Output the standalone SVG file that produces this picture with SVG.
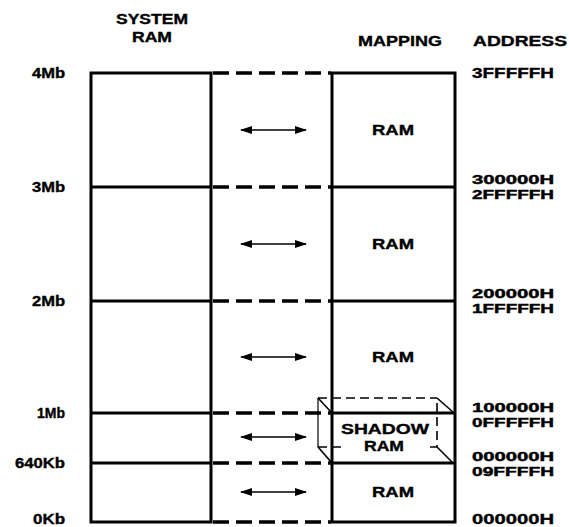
<svg xmlns="http://www.w3.org/2000/svg" width="570" height="527" viewBox="0 0 570 527">
<style>
text{font-family:"Liberation Sans",Arial,sans-serif;font-weight:bold;font-size:14px;fill:#000;stroke:#000;stroke-width:0.35}
.a{font-size:13px;stroke-width:0.45}
.box{fill:#fff;stroke:#000;stroke-width:3}
.div{stroke:#000;stroke-width:3}
.dash{stroke:#000;stroke-width:3.5;stroke-dasharray:16 7;fill:none}
.thin{stroke:#000;stroke-width:1.6;stroke-dasharray:9 5;fill:none}
.arr{stroke:#000;stroke-width:1.6;marker-start:url(#ah);marker-end:url(#ah)}
.m{text-anchor:middle}
.r{text-anchor:end}
</style>
<defs>
<marker id="ah" viewBox="0 0 12 8" refX="11" refY="4" markerWidth="12" markerHeight="8" markerUnits="userSpaceOnUse" orient="auto-start-reverse">
<path d="M0,0 L12,4 L0,8 Z" fill="#000"/>
</marker>
</defs>
<g id="headers">
<text x="152" y="24" class="m" textLength="72" lengthAdjust="spacingAndGlyphs">SYSTEM</text>
<text x="152" y="42" class="m" textLength="40" lengthAdjust="spacingAndGlyphs">RAM</text>
<text x="400" y="46" class="m" textLength="84" lengthAdjust="spacingAndGlyphs">MAPPING</text>
<text x="473" y="46" textLength="94" lengthAdjust="spacingAndGlyphs">ADDRESS</text>
</g>
<g id="connectors">
<line class="dash" x1="213" y1="73" x2="331" y2="73"/>
<line class="dash" x1="213" y1="187" x2="331" y2="187"/>
<line class="dash" x1="213" y1="301" x2="331" y2="301"/>
<line class="dash" x1="213" y1="413" x2="331" y2="413"/>
<line class="dash" x1="213" y1="463" x2="331" y2="463"/>
<line class="dash" x1="213" y1="522" x2="331" y2="522"/>
<line class="arr" x1="241" y1="130" x2="306" y2="130"/>
<line class="arr" x1="241" y1="244" x2="306" y2="244"/>
<line class="arr" x1="241" y1="357" x2="306" y2="357"/>
<line class="arr" x1="241" y1="437" x2="306" y2="437"/>
<line class="arr" x1="241" y1="492" x2="306" y2="492"/>
</g>
<g id="system-ram">
<rect class="box" x="91" y="73" width="120" height="449"/>
<line class="div" x1="91" y1="187" x2="211" y2="187"/>
<line class="div" x1="91" y1="301" x2="211" y2="301"/>
<line class="div" x1="91" y1="413" x2="211" y2="413"/>
<line class="div" x1="91" y1="463" x2="211" y2="463"/>
<text x="65" y="78" class="r" textLength="33" lengthAdjust="spacingAndGlyphs">4Mb</text>
<text x="65" y="192" class="r" textLength="33" lengthAdjust="spacingAndGlyphs">3Mb</text>
<text x="65" y="306" class="r" textLength="33" lengthAdjust="spacingAndGlyphs">2Mb</text>
<text x="65" y="418" class="r" textLength="28" lengthAdjust="spacingAndGlyphs">1Mb</text>
<text x="65" y="468" class="r" textLength="50" lengthAdjust="spacingAndGlyphs">640Kb</text>
<text x="65" y="524" class="r" textLength="32" lengthAdjust="spacingAndGlyphs">0Kb</text>
</g>
<g id="mapping">
<rect class="box" x="332" y="73" width="123" height="449"/>
<line class="div" x1="332" y1="187" x2="455" y2="187"/>
<line class="div" x1="332" y1="301" x2="455" y2="301"/>
<line class="div" x1="332" y1="413" x2="455" y2="413"/>
<line class="div" x1="332" y1="463" x2="455" y2="463"/>
<text x="393" y="135" class="m" textLength="42" lengthAdjust="spacingAndGlyphs">RAM</text>
<text x="393" y="249" class="m" textLength="42" lengthAdjust="spacingAndGlyphs">RAM</text>
<text x="393" y="362" class="m" textLength="42" lengthAdjust="spacingAndGlyphs">RAM</text>
<text x="393" y="497" class="m" textLength="42" lengthAdjust="spacingAndGlyphs">RAM</text>
</g>
<g id="shadow-ram">
<path class="thin" d="M318,447 H437 V398"/>
<rect x="342" y="420" width="86" height="32" fill="#fff"/>
<path class="thin" d="M318,398 H437"/>
<line x1="318" y1="398" x2="318" y2="447" stroke="#000" stroke-width="1.2"/>
<line x1="318" y1="398" x2="332" y2="413" stroke="#000" stroke-width="1.6"/>
<line x1="437" y1="398" x2="454" y2="413" stroke="#000" stroke-width="1.6"/>
<line x1="318" y1="447" x2="332" y2="463" stroke="#000" stroke-width="1.6"/>
<line x1="437" y1="447" x2="453" y2="463" stroke="#000" stroke-width="1.6"/>
<text x="385" y="434" class="m" textLength="88" lengthAdjust="spacingAndGlyphs">SHADOW</text>
<text x="384" y="451" class="m" textLength="40" lengthAdjust="spacingAndGlyphs">RAM</text>
</g>
<g id="addresses">
<text x="472" y="78" textLength="82" lengthAdjust="spacingAndGlyphs">3FFFFFH</text>
<text x="472" y="184" class="a" textLength="82" lengthAdjust="spacingAndGlyphs">300000H</text>
<text x="472" y="199" class="a" textLength="82" lengthAdjust="spacingAndGlyphs">2FFFFFH</text>
<text x="472" y="298" class="a" textLength="82" lengthAdjust="spacingAndGlyphs">200000H</text>
<text x="472" y="313" class="a" textLength="82" lengthAdjust="spacingAndGlyphs">1FFFFFH</text>
<text x="472" y="412" class="a" textLength="82" lengthAdjust="spacingAndGlyphs">100000H</text>
<text x="472" y="427" class="a" textLength="82" lengthAdjust="spacingAndGlyphs">0FFFFFH</text>
<text x="472" y="461" class="a" textLength="82" lengthAdjust="spacingAndGlyphs">000000H</text>
<text x="472" y="476" class="a" textLength="82" lengthAdjust="spacingAndGlyphs">09FFFFH</text>
<text x="472" y="524" textLength="82" lengthAdjust="spacingAndGlyphs">000000H</text>
</g>
</svg>
